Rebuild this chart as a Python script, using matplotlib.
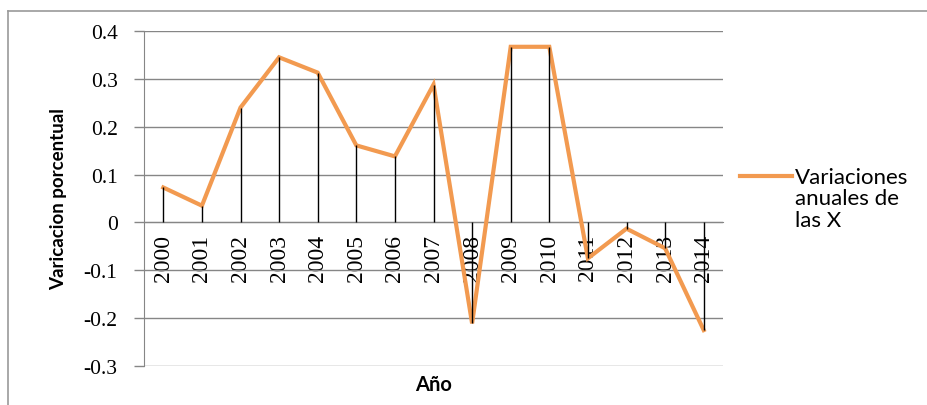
import matplotlib
matplotlib.use("Agg")
import matplotlib.pyplot as plt
from matplotlib.lines import Line2D

# Annual percentage variation of X
years = ["2000", "2001", "2002", "2003", "2004", "2005", "2006", "2007",
         "2008", "2009", "2010", "2011", "2012", "2013", "2014"]
variation = [0.073, 0.035, 0.240, 0.345, 0.313, 0.161, 0.138, 0.288,
             -0.211, 0.367, 0.367, -0.075, -0.013, -0.054, -0.225]
y_ticks = [-0.3, -0.2, -0.1, 0.0, 0.1, 0.2, 0.3, 0.4]
y_tick_labels = ["-0.3", "-0.2", "-0.1", "0", "0.1", "0.2", "0.3", "0.4"]
series_label = "Variaciones\nanuales de\nlas X"

orange = "#F29A50"
grid_grey = "#868686"
serif = ["Liberation Serif", "DejaVu Serif"]
sans = ["Lato", "DejaVu Sans"]

fig = plt.figure(figsize=(9.27, 4.06), dpi=100)
W, H = 927, 406
ax = fig.add_axes([144 / W, 1 - 367 / H, (723 - 144) / W, (367 - 32) / H])

x = list(range(len(years)))
ax.plot(x, variation, color=orange, lw=3, solid_joinstyle="miter", zorder=3)
ax.vlines(x, 0, variation, color="black", lw=1.0, zorder=4)

ax.set_xlim(-0.5, len(years) - 0.5)
ax.set_ylim(-0.3, 0.4)
ax.set_yticks(y_ticks)
ax.set_yticklabels(y_tick_labels, fontfamily=serif, fontsize=15.5)
ax.yaxis.grid(True, color=grid_grey, lw=1)
ax.set_axisbelow(True)
ax.tick_params(axis="y", direction="out", length=7, width=1, color=grid_grey, pad=12)

# category axis crossing at zero
ax.spines["bottom"].set_position(("data", 0))
ax.spines["bottom"].set_color(grid_grey)
ax.spines["left"].set_color(grid_grey)
for s in ("top", "right"):
    ax.spines[s].set_visible(False)
ax.set_xticks(x)
ax.set_xticklabels(years, rotation=90, fontfamily=serif, fontsize=17)
ax.tick_params(axis="x", length=0, pad=8)

ax.set_xlabel("Año", fontfamily=sans, fontsize=14.5, fontweight="bold")
ax.xaxis.set_label_coords(0.5, -0.025)
ax.set_ylabel("Varicacion porcentual", fontfamily=sans, fontsize=13.5, fontweight="bold")
ax.yaxis.set_label_coords(-0.133, 0.5)

# legend key and label
fig.add_artist(Line2D([740 / W, 792 / W], [1 - 177 / H, 1 - 177 / H],
                      color=orange, lw=3, transform=fig.transFigure))
fig.text(795 / W, 1 - 168 / H, series_label, fontfamily=sans, fontsize=16,
         va="top", ha="left", linespacing=1.08)

# chart frame
fig.add_artist(Line2D([8 / W, 1.0], [1 - 12 / H, 1 - 12 / H], color="#9a9a9a",
                      lw=1.2, transform=fig.transFigure))
fig.add_artist(Line2D([8 / W, 8 / W], [0, 1 - 12 / H], color="#9a9a9a",
                      lw=1.2, transform=fig.transFigure))

fig.savefig("out.png", dpi=100)
